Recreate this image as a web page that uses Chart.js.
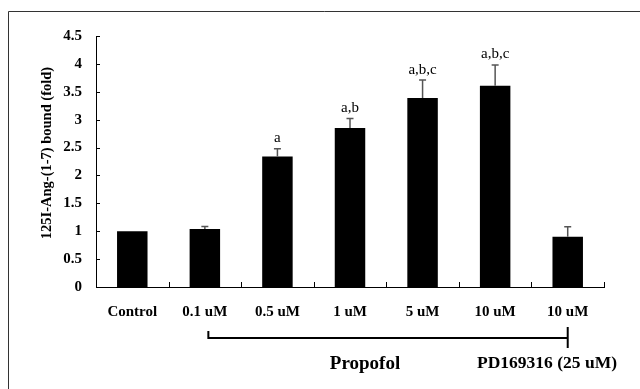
<!DOCTYPE html>
<html>
<head>
<meta charset="utf-8">
<script src="https://cdn.jsdelivr.net/npm/chart.js@4/dist/chart.umd.min.js"></script>
<style>
html,body{margin:0;padding:0;background:#fff;}
#wrap{position:relative;width:640px;height:389px;}
</style>
</head>
<body>
<div id="wrap"><canvas id="c" width="640" height="389"></canvas></div>
<script>
const categories = ['Control', '0.1 uM', '0.5 uM', '1 uM', '5 uM', '10 uM', '10 uM'];
const values = [1.0, 1.04, 2.34, 2.85, 3.39, 3.61, 0.9];
const errors = [0, 0.045, 0.14, 0.17, 0.32, 0.37, 0.18];
const annotations = ['', '', 'a', 'a,b', 'a,b,c', 'a,b,c', ''];
const yTicks = [0, 0.5, 1, 1.5, 2, 2.5, 3, 3.5, 4, 4.5];
const yTitle = '125I-Ang-(1-7) bound (fold)';
const groupLabel1 = 'Propofol';
const groupLabel2 = 'PD169316 (25 uM)';

const SERIF = '"Liberation Serif", "Times New Roman", serif';

const decor = {
  id: 'decor',
  afterDraw(chart) {
    const ctx = chart.ctx;
    const xs = chart.scales.x, ys = chart.scales.y;
    const area = chart.chartArea;
    ctx.save();
    // outer frame (left & top)
    ctx.strokeStyle = '#333';
    ctx.lineWidth = 1;
    ctx.beginPath();
    ctx.moveTo(8.5, 389); ctx.lineTo(8.5, 11.5); ctx.lineTo(640, 11.5);
    ctx.stroke();

    // inner y ticks
    ctx.strokeStyle = '#000';
    ctx.lineWidth = 1;
    ctx.beginPath();
    yTicks.forEach(v => {
      const y = Math.round(ys.getPixelForValue(v)) + 0.5;
      ctx.moveTo(area.left, y); ctx.lineTo(area.left + 4, y);
    });
    // inner x ticks at category boundaries
    for (let i = 0; i <= categories.length; i++) {
      const x = Math.round(xs.getPixelForValue(i - 0.5)) + 0.5;
      ctx.moveTo(x, area.bottom); ctx.lineTo(x, area.bottom - 5);
    }
    ctx.stroke();

    // error bars
    const meta = chart.getDatasetMeta(0);
    ctx.strokeStyle = '#555';
    ctx.lineWidth = 1.5;
    meta.data.forEach((bar, i) => {
      if (!errors[i]) return;
      const x = bar.x;
      const yTop = ys.getPixelForValue(values[i]);
      const yErr = ys.getPixelForValue(values[i] + errors[i]);
      ctx.beginPath();
      ctx.moveTo(x, yTop); ctx.lineTo(x, yErr);
      ctx.moveTo(x - 3.5, yErr); ctx.lineTo(x + 3.5, yErr);
      ctx.stroke();
    });

    // significance annotations
    ctx.fillStyle = '#000';
    ctx.font = '15px ' + SERIF;
    ctx.textAlign = 'center';
    ctx.textBaseline = 'bottom';
    meta.data.forEach((bar, i) => {
      if (!annotations[i]) return;
      const yErr = ys.getPixelForValue(values[i] + errors[i]);
      ctx.fillText(annotations[i], bar.x, yErr - 3);
    });

    // y title
    ctx.save();
    ctx.translate(47, 153);
    ctx.rotate(-Math.PI / 2);
    ctx.font = 'bold 14.5px ' + SERIF;
    ctx.textAlign = 'center';
    ctx.textBaseline = 'middle';
    ctx.fillText(yTitle, 0, 0);
    ctx.restore();

    // bracket
    const xl = xs.getPixelForValue(1) + 3.5;
    const xr = xs.getPixelForValue(6);
    ctx.strokeStyle = '#000';
    ctx.lineWidth = 2;
    ctx.beginPath();
    ctx.moveTo(xl, 331); ctx.lineTo(xl, 338); ctx.lineTo(xr, 338);
    ctx.stroke();
    ctx.beginPath();
    ctx.moveTo(xr, 327); ctx.lineTo(xr, 348);
    ctx.stroke();

    ctx.textBaseline = 'alphabetic';
    ctx.font = 'bold 19px ' + SERIF;
    ctx.fillText(groupLabel1, 365, 369);
    ctx.font = 'bold 17.5px ' + SERIF;
    ctx.fillText(groupLabel2, 547, 368);
    ctx.restore();
  }
};

new Chart(document.getElementById('c'), {
  type: 'bar',
  data: {
    labels: categories,
    datasets: [{
      data: values,
      backgroundColor: '#000',
      borderWidth: 0,
      barPercentage: 0.42,
      categoryPercentage: 1.0
    }]
  },
  options: {
    responsive: false,
    maintainAspectRatio: false,
    animation: false,
    devicePixelRatio: 1,
    layout: { padding: { left: 0, top: 36, right: 36, bottom: 0 } },
    plugins: { legend: { display: false }, tooltip: { enabled: false } },
    scales: {
      x: {
        grid: { display: false, drawTicks: false },
        border: { display: true, color: '#000', width: 1 },
        ticks: {
          color: '#000',
          font: { family: SERIF, size: 15, weight: 'bold' },
          padding: 16,
          maxRotation: 0,
          autoSkip: false
        },
        afterFit(scale) { scale.height = 102; }
      },
      y: {
        min: 0,
        max: 4.5,
        afterBuildTicks(scale) { scale.ticks = yTicks.map(v => ({ value: v })); },
        grid: { display: false, drawTicks: false },
        border: { display: true, color: '#000', width: 1 },
        ticks: {
          color: '#000',
          font: { family: SERIF, size: 15, weight: 'bold' },
          padding: 14,
          callback: v => String(v)
        },
        afterFit(scale) { scale.width = 96; }
      }
    }
  },
  plugins: [decor]
});
</script>
</body>
</html>
